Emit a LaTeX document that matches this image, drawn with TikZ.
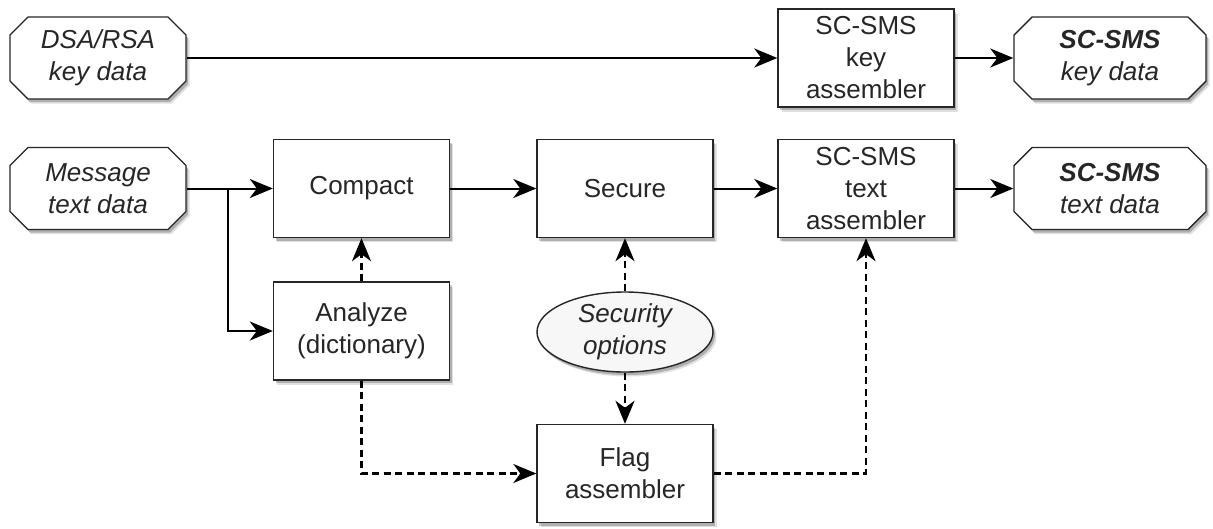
\documentclass[tikz,border=0pt]{standalone}
\usepackage{fontspec}
\setmainfont{Liberation Sans}
\usetikzlibrary{arrows.meta,shapes.misc,shapes.geometric,shadows}

\tikzset{
  softshadow/.style={
    drop shadow={shadow xshift=2pt,shadow yshift=-3pt,opacity=.22,fill=black},
    drop shadow={shadow xshift=3.5pt,shadow yshift=-4.5pt,opacity=.12,fill=black}},
  base/.style={draw=black!85,line width=1.4pt,fill=white,softshadow,
    align=center,inner sep=0pt,font=\fontsize{26}{32}\selectfont,text=black!85},
  procbox/.style={base,rectangle,minimum width=176pt,minimum height=98pt},
  databox/.style={base,chamfered rectangle,chamfered rectangle xsep=9pt,
    chamfered rectangle ysep=9pt,minimum width=176pt,minimum height=82pt,
    font=\fontsize{26}{32}\selectfont\itshape},
  optbox/.style={base,ellipse,minimum width=176pt,minimum height=80pt,
    fill=black!3,font=\fontsize{26}{32}\selectfont\itshape},
  flow/.style={line width=2pt,-{Stealth[length=23pt,width=19pt,inset=7pt]}},
  ctrl/.style={flow,line width=2.3pt,dash pattern=on 7pt off 4.5pt}
}

\begin{document}
\begin{tikzpicture}[x=1pt,y=-1pt]
\useasboundingbox (0,0) rectangle (1213,528);

% key path
\node[databox] (dsa) at (98,58) {DSA/RSA\\key data};
\node[procbox] (keyasm) at (866,58) {SC-SMS\\key\\assembler};
\node[databox,minimum width=192pt] (keyout) at (1110,58) {\textbf{SC-SMS}\\key data};

% text path
\node[databox] (msg) at (98,188.5) {Message\\text data};
\node[procbox] (compact) at (361.5,188.5) {Compact};
\node[procbox] (secure) at (625,188.5) {Secure};
\node[procbox] (textasm) at (866,188.5) {SC-SMS\\text\\assembler};
\node[databox,minimum width=192pt] (textout) at (1110,188.5) {\textbf{SC-SMS}\\text data};

% side processes
\node[procbox] (analyze) at (361.5,331) {Analyze\\(dictionary)};
\node[optbox] (secopt) at (625,332) {Security\\options};
\node[procbox] (flag) at (625,473.5) {Flag\\assembler};

\coordinate (br) at (228,188.5);

% data flow
\draw[flow] (dsa.east) -- (keyasm.west);
\draw[flow] (keyasm.east) -- (keyout.west);
\draw[flow] (msg.east) -- (compact.west);
\draw[flow] (br) |- (analyze.west);
\draw[flow] (compact.east) -- (secure.west);
\draw[flow] (secure.east) -- (textasm.west);
\draw[flow] (textasm.east) -- (textout.west);

% control flow
\draw[ctrl] (analyze.north) -- (compact.south);
\draw[ctrl] (secopt.north) -- (secure.south);
\draw[ctrl] (secopt.south) -- (flag.north);
\draw[ctrl] (analyze.south) |- (flag.west);
\draw[ctrl] (flag.east) -| (textasm.south);
\end{tikzpicture}
\end{document}
